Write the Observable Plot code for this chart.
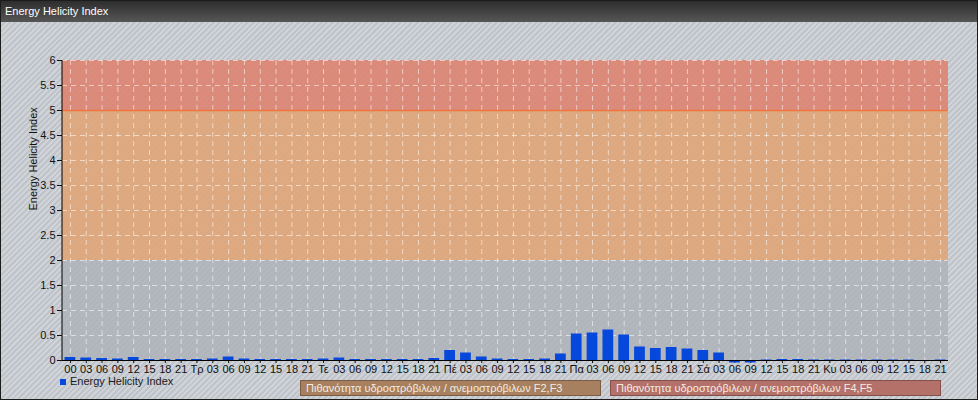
<!DOCTYPE html>
<html>
<head>
<meta charset="utf-8">
<script src="https://cdn.jsdelivr.net/npm/d3@7"></script>
<script src="https://cdn.jsdelivr.net/npm/@observablehq/plot@0.6"></script>
<style>
html, body { margin: 0; padding: 0; }
body { width: 978px; height: 400px; overflow: hidden; font-family: "Liberation Sans", Arial, sans-serif; }
#frame { position: relative; width: 978px; height: 400px;
  background: repeating-linear-gradient(135deg, #d0d4d9 0px, #d0d4d9 2px, #bfc4ca 2px, #bfc4ca 4px); }
#border { position: absolute; left: 0; top: 0; width: 978px; height: 400px; box-sizing: border-box; border: 1px solid #1c1c1c; pointer-events: none; }
#title { position: absolute; left: 0; top: 0; width: 978px; height: 22px; background: linear-gradient(#2c2c2c, #565656);
  color: #fff; font-size: 11px; line-height: 22px; padding-left: 5px; box-sizing: border-box; }
#chart { position: absolute; left: 0; top: 22px; }
.leg { position: absolute; font-size: 11px; }
#leg1 { left: 60px; top: 374px; color: #1a1a1a; line-height: 14px; }
#leg1 span.sw { display: inline-block; width: 6px; height: 6px; background: #0647dc; margin-right: 4px; vertical-align: 0px; }
.box { position: absolute; top: 380px; height: 16px; box-sizing: border-box; line-height: 14px; padding-left: 5px; color: #f4ece0; font-size: 11px; }
#box1 { left: 300px; width: 301px; background: #a6805f; border: 1px solid #7c5c42; }
#box2 { left: 610px; width: 331px; background: #b3716a; border: 1px solid #86504a; }
</style>
</head>
<body>
<div id="frame">
  <div id="title">Energy Helicity Index</div>
  <div id="chart"></div>
  <div id="leg1" class="leg"><span class="sw"></span>Energy Helicity Index</div>
  <div id="box1" class="box">Πιθανότητα υδροστρόβιλων / ανεμοστρόβιλων F2,F3</div>
  <div id="box2" class="box">Πιθανότητα υδροστρόβιλων / ανεμοστρόβιλων F4,F5</div>
  <div id="border"></div>
</div>
<script>
const labels = [
  "00","03","06","09","12","15","18","21",
  "Τρ","03","06","09","12","15","18","21",
  "Τε","03","06","09","12","15","18","21",
  "Πέ","03","06","09","12","15","18","21",
  "Πα","03","06","09","12","15","18","21",
  "Σά","03","06","09","12","15","18","21",
  "Κυ","03","06","09","12","15","18","21"
];
const values = [
  0.06, 0.05, 0.04, 0.03, 0.06, 0.02, 0.02, 0.02,
  0.02, 0.03, 0.07, 0.03, 0.02, 0.02, 0.02, 0.02,
  0.03, 0.05, 0.02, 0.02, 0.02, 0.02, 0.02, 0.04,
  0.20, 0.15, 0.07, 0.03, 0.02, 0.02, 0.03, 0.13,
  0.53, 0.55, 0.61, 0.51, 0.27, 0.24, 0.26, 0.23,
  0.20, 0.15, -0.05, -0.05, 0.01, 0.02, 0.02, 0.01,
  0.01, 0.01, 0.01, 0.01, 0.01, 0.01, -0.02, 0.01
];
const bandLow = [0, 2, 5];
const bandHigh = [2, 5, 6];
const bandColors = ["#aeb3b9", "#e0a474", "#de826e"];
const yTicks = [0, 0.5, 1, 1.5, 2, 2.5, 3, 3.5, 4, 4.5, 5, 5.5, 6];
const yLabel = "Energy Helicity Index";

const data = values.map((v, i) => ({i, v}));
const bands = bandLow.map((y1, k) => ({y1, y2: bandHigh[k], fill: bandColors[k]}));
const idx = d3.range(labels.length);

const axisLine = (index, scales, values, dims) => {
  const g = d3.create("svg:g");
  g.append("line")
    .attr("x1", dims.marginLeft).attr("x2", dims.marginLeft)
    .attr("y1", scales.y(6)).attr("y2", scales.y(0))
    .attr("stroke", "#000").attr("stroke-width", 1);
  return g.node();
};

const chart = Plot.plot({
  width: 978,
  height: 355,
  marginLeft: 62,
  marginRight: 30,
  marginTop: 38,
  marginBottom: 17,
  style: {background: "transparent", fontFamily: "Liberation Sans, Arial, sans-serif", fontSize: "11px", color: "#111"},
  x: {type: "band", domain: idx, paddingInner: 0.32, paddingOuter: 0.16, label: null,
      tickFormat: i => labels[i], tickSize: 3, tickPadding: 2},
  y: {domain: [0, 6], ticks: yTicks, tickFormat: d => String(d), label: null, tickSize: 5, tickPadding: 2},
  marks: [
    Plot.rect(bands, {y1: "y1", y2: "y2", fill: "fill", fillOpacity: 0.88}),
    Plot.ruleY(yTicks.filter(t => t > 0), {stroke: "#ffffff", strokeOpacity: 0.55, strokeDasharray: "5,4"}),
    Plot.ruleX(idx, {x: d => d, stroke: "#ffffff", strokeOpacity: 0.55, strokeDasharray: "5,4"}),
    Plot.ruleY([5], {stroke: "#ee7440", strokeWidth: 1.5}),
    Plot.barY(data, {x: "i", y: "v", fill: "#0647dc"}),
    Plot.ruleY([0], {stroke: "#000"}),
    axisLine,
    Plot.text([yLabel], {text: d => d, frameAnchor: "left", dx: -29, rotate: -90, fontSize: 11, fill: "#111"})
  ]
});
document.getElementById("chart").appendChild(chart);
</script>
</body>
</html>
